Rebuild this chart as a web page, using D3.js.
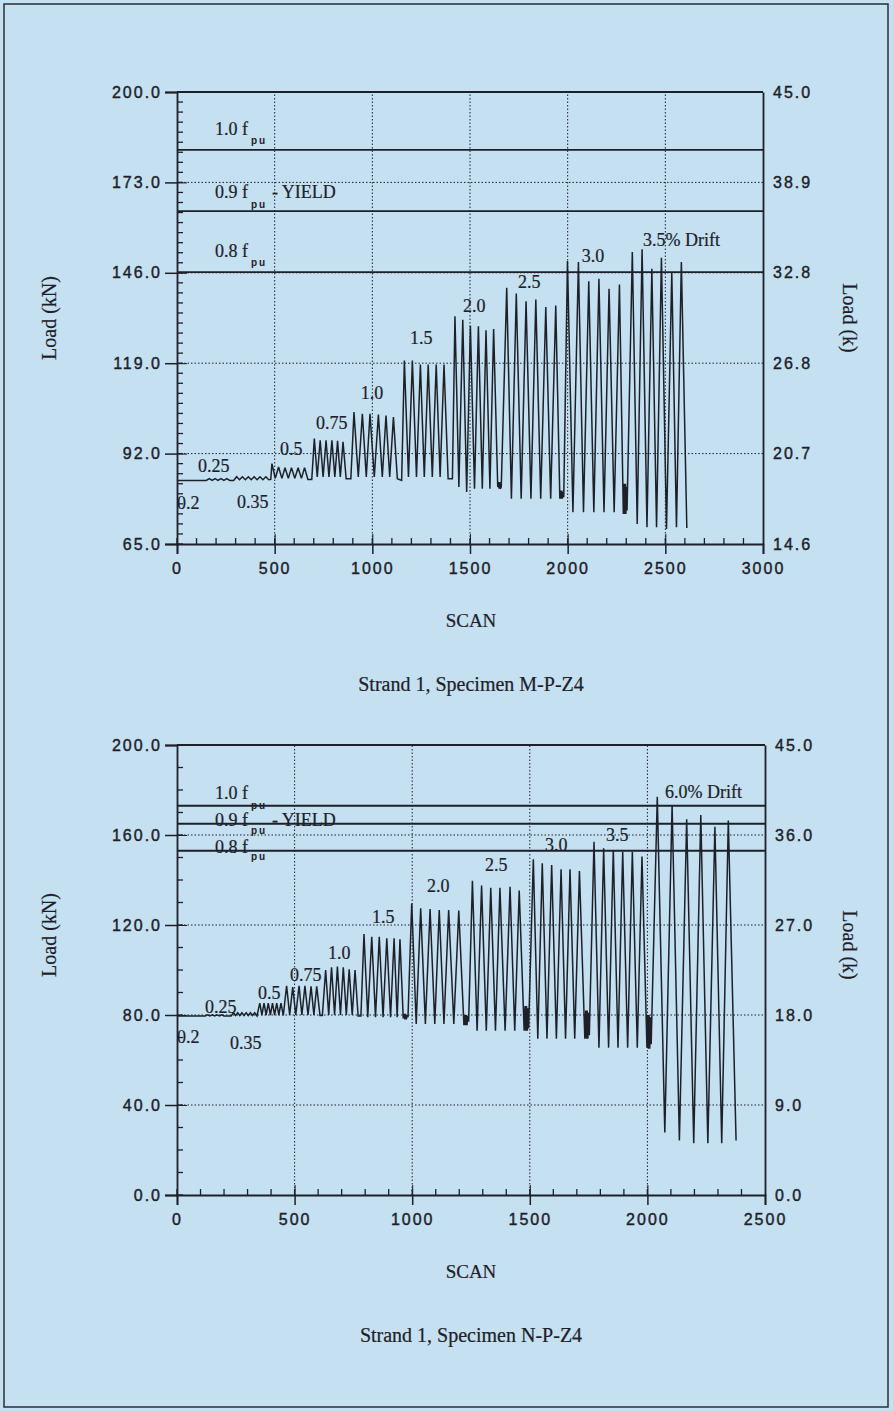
<!DOCTYPE html>
<html>
<head>
<meta charset="utf-8">
<script src="https://cdn.jsdelivr.net/npm/d3@7"></script>
<style>
  body { margin: 0; background: #c4e0f1; }
  svg { display: block; }
  .num { font-family: "Liberation Sans", Arial, sans-serif; font-size: 16px; letter-spacing: 2px; fill: #1d2029; stroke: #1d2029; stroke-width: 0.4px; }
  .serif { font-family: "Liberation Serif", "Times New Roman", serif; fill: #1d2029; stroke: #1d2029; stroke-width: 0.2px; }
  .sub { font-family: "Liberation Sans", Arial, sans-serif; font-size: 10px; font-weight: bold; letter-spacing: 2px; fill: #1d2029; }
</style>
</head>
<body>
<svg id="fig" width="893" height="1411"></svg>
<script>
// ---- Specimen M-P-Z4 (top) ----
const mpzXTicks = [0, 500, 1000, 1500, 2000, 2500, 3000];
const mpzYTicks = [65, 92, 119, 146, 173, 200];
const mpzRightLabels = ["14.6", "20.7", "26.8", "32.8", "38.9", "45.0"];
const mpzFpu = [182.7, 164.4, 146.2];
// turning points [scan, load kN]
const mpzPoints = [
  [0, 84.0], [150, 84.0],
  [165, 84.5], [180, 84.0], [195, 84.5], [210, 84.0], [225, 84.5], [240, 84.0], [255, 84.5], [270, 84.0], [290, 84.0],
  [305, 85.1], [320, 84.2], [335, 85.1], [350, 84.2], [365, 85.1], [380, 84.2], [395, 85.1], [410, 84.2], [425, 85.1], [440, 84.2], [455, 85.1], [470, 84.2],
  [480, 84.3], [486, 89.0], [503, 84.6], [520, 88.0], [537, 84.6], [553, 87.8], [570, 84.6], [586, 87.8], [603, 84.6], [620, 87.8], [637, 84.6], [653, 87.8], [670, 84.3], [690, 84.3],
  [703, 96.5], [718, 85.0], [733, 96.0], [748, 85.0], [763, 96.0], [778, 85.0], [793, 96.0], [808, 85.0], [822, 95.8], [836, 85.0], [850, 95.5], [866, 84.5], [890, 84.5],
  [906, 104.4], [928, 85.0], [949, 103.9], [969, 85.0], [988, 103.9], [1010, 85.0], [1031, 103.7], [1051, 85.0], [1070, 103.4], [1089, 85.0], [1108, 102.9], [1128, 84.5], [1150, 84.0],
  [1164, 119.8], [1185, 85.0], [1205, 119.8], [1226, 85.0], [1246, 118.6], [1266, 85.0], [1286, 118.6], [1307, 85.0], [1327, 118.6], [1347, 85.0], [1367, 118.6], [1388, 84.5], [1410, 84.5],
  [1423, 133.0], [1443, 82.0], [1463, 132.0], [1483, 80.5], [1502, 130.2], [1523, 81.5], [1543, 130.0], [1563, 81.5], [1582, 128.8], [1602, 81.5], [1621, 129.2], [1642, 82.0],
  [1646, 83.5], [1649, 81.5], [1652, 83.5], [1655, 81.5], [1660, 82.0],
  [1688, 141.5], [1712, 78.5], [1737, 139.8], [1762, 78.5], [1787, 137.5], [1812, 78.5], [1837, 138.0], [1862, 78.5], [1888, 135.8], [1913, 78.5], [1939, 136.2], [1960, 78.5],
  [1964, 81.0], [1967, 78.5], [1970, 81.0], [1973, 78.5], [1976, 80.5], [1980, 79.0],
  [1999, 149.5], [2027, 74.5], [2055, 149.2], [2081, 74.5], [2108, 143.5], [2134, 74.5], [2160, 144.2], [2186, 74.5], [2212, 141.2], [2238, 74.5], [2265, 142.5], [2285, 74.0],
  [2288, 83.0], [2290, 74.0], [2292, 83.0], [2294, 74.0], [2296, 83.0], [2298, 74.0], [2301, 82.0], [2304, 75.0],
  [2331, 152.2], [2356, 71.0], [2381, 153.0], [2406, 70.0], [2431, 147.2], [2455, 70.0], [2480, 150.5], [2506, 69.5], [2533, 146.2], [2557, 70.0], [2582, 149.2], [2610, 69.8]
];
// drift labels [text, scan, load]
const mpzDrift = [
  ["0.2", 0, 77.2], ["0.25", 108, 88.5], ["0.35", 307, 77.5], ["0.5", 527, 93.6], ["0.75", 712, 101.2],
  ["1.0", 941, 110.2], ["1.5", 1193, 126.5], ["2.0", 1464, 136.2], ["2.5", 1746, 143.3],
  ["3.0", 2072, 151.0], ["3.5% Drift", 2386, 156.0]
];
const mpzFpuLabels = [["1.0 f", 189.0, 185.5], ["0.9 f", 170.1, 166.5], ["0.8 f", 152.5, 149.2]];

// ---- Specimen N-P-Z4 (bottom) ----
const npzXTicks = [0, 500, 1000, 1500, 2000, 2500];
const npzYTicks = [0, 40, 80, 120, 160, 200];
const npzRightLabels = ["0.0", "9.0", "18.0", "27.0", "36.0", "45.0"];
const npzFpu = [173.0, 165.0, 153.0];
const npzPoints = [
  [0, 79.6], [120, 79.6],
  [130, 80.1], [140, 79.6], [150, 80.1], [160, 79.6], [170, 80.1], [180, 79.6], [190, 80.1], [200, 79.6], [230, 79.6],
  [240, 81.0], [249, 79.8], [258, 81.0], [267, 79.8], [276, 81.0], [285, 79.8], [294, 81.0], [303, 79.8], [312, 81.0], [321, 79.8], [330, 81.0], [340, 79.6],
  [352, 85.3], [361, 80.0], [370, 85.3], [379, 80.0], [388, 85.3], [397, 80.0], [406, 85.3], [415, 80.0], [424, 85.3], [433, 80.0], [442, 85.3], [452, 79.8],
  [466, 93.0], [479, 80.0], [492, 92.4], [505, 80.0], [519, 93.0], [531, 80.0], [544, 93.0], [557, 80.0], [570, 92.7], [582, 80.0], [594, 92.7], [608, 79.8], [618, 79.8],
  [632, 100.0], [645, 80.0], [657, 101.2], [670, 80.0], [682, 101.5], [695, 80.0], [707, 101.2], [720, 80.0], [732, 100.3], [745, 80.0], [757, 100.0], [770, 79.6], [782, 79.6],
  [795, 116.0], [811, 79.0], [828, 114.8], [844, 79.0], [860, 114.8], [876, 79.0], [892, 114.1], [908, 79.0], [923, 114.1], [936, 79.0], [948, 113.6], [962, 78.5],
  [966, 80.5], [969, 78.0], [972, 80.5], [975, 78.0], [978, 80.0], [982, 79.0],
  [998, 129.6], [1017, 76.0], [1036, 127.4], [1056, 76.0], [1076, 127.1], [1096, 76.0], [1115, 126.7], [1135, 76.0], [1155, 126.7], [1177, 76.0], [1198, 126.4], [1220, 75.5],
  [1224, 80.0], [1227, 75.5], [1230, 80.0], [1233, 75.5], [1236, 79.5], [1240, 77.0],
  [1256, 139.7], [1276, 73.0], [1295, 137.5], [1315, 73.0], [1334, 136.5], [1354, 73.0], [1373, 136.5], [1395, 73.0], [1416, 137.0], [1436, 73.0], [1455, 135.3], [1476, 73.0],
  [1480, 84.0], [1483, 73.0], [1486, 84.0], [1489, 73.0], [1492, 83.0], [1495, 74.0],
  [1515, 149.2], [1534, 69.5], [1553, 147.4], [1573, 69.5], [1593, 146.7], [1613, 69.5], [1633, 144.8], [1652, 69.5], [1671, 144.8], [1691, 69.5], [1711, 144.0], [1734, 69.5],
  [1738, 82.0], [1741, 69.5], [1744, 82.0], [1747, 69.5], [1750, 81.0], [1753, 71.0],
  [1773, 157.0], [1794, 65.5], [1814, 154.1], [1835, 65.5], [1855, 153.3], [1875, 65.5], [1895, 152.6], [1916, 65.5], [1936, 152.6], [1957, 65.5], [1977, 150.4], [1998, 65.5],
  [2001, 80.0], [2004, 65.0], [2007, 80.0], [2010, 65.0], [2013, 79.0], [2016, 67.0],
  [2042, 177.0], [2074, 27.8], [2105, 173.3], [2136, 24.2], [2167, 167.0], [2197, 23.0], [2227, 168.9], [2257, 23.0], [2287, 163.7], [2316, 23.0], [2344, 166.4], [2377, 24.2]
];
const npzDrift = [
  ["0.2", 0, 70.4], ["0.25", 119, 83.7], ["0.35", 225, 67.6], ["0.5", 344, 89.8], ["0.75", 480, 97.8],
  ["1.0", 642, 107.6], ["1.5", 829, 123.6], ["2.0", 1063, 137.3], ["2.5", 1310, 146.7],
  ["3.0", 1565, 155.6], ["3.5", 1824, 160.0], ["6.0% Drift", 2075, 179.2]
];
const npzFpuLabels = [["1.0 f", 178.8, 173.3], ["0.9 f", 166.7, 162.2], ["0.8 f", 154.8, 150.4]];

const ink = "#1d2029";
const svg = d3.select("#fig");

// page frame
svg.append("rect")
  .attr("x", 4).attr("y", 4).attr("width", 884).attr("height", 1403)
  .attr("fill", "#c4e0f1").attr("stroke", "#2a2d36").attr("stroke-width", 1.5);

function drawChart(c) {
  const g = svg.append("g");
  const x = d3.scaleLinear().domain([0, c.xTicks[c.xTicks.length - 1]]).range([177, c.right]);
  const y = d3.scaleLinear().domain([c.yTicks[0], c.yTicks[c.yTicks.length - 1]]).range([c.bottom, c.top]);
  const [x0, x1] = x.range();
  const [y0, y1] = y.range();

  // dotted grid
  g.selectAll(".hgrid").data(c.yTicks.slice(1, -1)).enter().append("line")
    .attr("x1", x0).attr("x2", x1).attr("y1", d => y(d)).attr("y2", d => y(d))
    .attr("stroke", ink).attr("stroke-width", 1).attr("stroke-dasharray", "1.5,2");
  g.selectAll(".vgrid").data(c.xTicks.slice(1, -1)).enter().append("line")
    .attr("x1", d => x(d)).attr("x2", d => x(d)).attr("y1", y0).attr("y2", y1)
    .attr("stroke", ink).attr("stroke-width", 1).attr("stroke-dasharray", "1.5,2");

  // minor ticks
  const yMinor = d3.range(c.yTicks[0], c.yTicks[c.yTicks.length - 1], c.yMinor);
  g.selectAll(".ymin").data(yMinor).enter().append("line")
    .attr("x1", x0).attr("x2", x0 + 6).attr("y1", d => y(d)).attr("y2", d => y(d))
    .attr("stroke", ink).attr("stroke-width", 1.3);
  const xMinor = d3.range(0, x.domain()[1], 100);
  g.selectAll(".xmin").data(xMinor).enter().append("line")
    .attr("x1", d => x(d)).attr("x2", d => x(d)).attr("y1", y0).attr("y2", y0 - 6)
    .attr("stroke", ink).attr("stroke-width", 1.3);

  // axes
  const left = g.append("g").attr("transform", `translate(${x0},0)`)
    .call(d3.axisLeft(y).tickValues(c.yTicks).tickFormat(d3.format(".1f")).tickSize(12).tickPadding(3));
  g.append("g").attr("transform", `translate(${x0},0)`)
    .call(d3.axisRight(y).tickValues(c.yTicks).tickSize(10).tickFormat(""))
    .select(".domain").remove();
  const bottomAx = g.append("g").attr("transform", `translate(0,${y0})`)
    .call(d3.axisBottom(x).tickValues(c.xTicks).tickFormat(d3.format("d")).tickSize(10).tickPadding(9));
  g.append("g").attr("transform", `translate(0,${y0})`)
    .call(d3.axisTop(x).tickValues(c.xTicks).tickSize(10).tickFormat(""))
    .select(".domain").remove();
  const rightAx = g.append("g").attr("transform", `translate(${x1},0)`)
    .call(d3.axisRight(y).tickValues(c.yTicks).tickFormat((d, i) => c.rightLabels[i]).tickSize(0).tickPadding(10));
  g.append("line").attr("x1", x0).attr("x2", x1).attr("y1", y1).attr("y2", y1)
    .attr("stroke", ink).attr("stroke-width", 1.8);

  [left, bottomAx, rightAx].forEach(a => {
    a.selectAll(".domain").attr("stroke", ink).attr("stroke-width", 1.8);
    a.selectAll(".tick line").attr("stroke", ink).attr("stroke-width", 1.5);
    a.selectAll("text").attr("class", "num").attr("font-size", null).attr("font-family", null).attr("fill", null);
  });
  g.selectAll(".tick line").attr("stroke", ink);

  // fpu reference lines
  g.selectAll(".fpu").data(c.fpu).enter().append("line")
    .attr("x1", x0).attr("x2", x1).attr("y1", d => y(d)).attr("y2", d => y(d))
    .attr("stroke", ink).attr("stroke-width", 1.8);

  // load trace
  const line = d3.line().x(d => x(d[0])).y(d => y(d[1]));
  g.append("path").datum(c.points)
    .attr("d", line).attr("fill", "none")
    .attr("stroke", ink).attr("stroke-width", 1.5).attr("stroke-linejoin", "miter").attr("stroke-miterlimit", 3);

  // drift labels
  g.selectAll(".drift").data(c.drift).enter().append("text")
    .attr("class", "serif").attr("font-size", 18)
    .attr("x", d => x(d[1])).attr("y", d => y(d[2])).attr("dy", "0.35em")
    .text(d => d[0]);

  // fpu labels
  c.fpuLabels.forEach((d, i) => {
    g.append("text").attr("class", "serif").attr("font-size", 18)
      .attr("x", 215).attr("y", y(d[1])).attr("dy", "0.35em").text(d[0]);
    g.append("text").attr("class", "sub")
      .attr("x", 251).attr("y", y(d[2])).attr("dy", "0.35em").text("pu");
    if (i === 1) {
      g.append("text").attr("class", "serif").attr("font-size", 18)
        .attr("x", 272).attr("y", y(d[1])).attr("dy", "0.35em").text("- YIELD");
    }
  });

  // titles
  const midY = (y0 + y1) / 2 + c.titleShift;
  g.append("text").attr("class", "serif").attr("font-size", 20).attr("text-anchor", "middle")
    .attr("transform", `translate(56,${midY}) rotate(-90)`).text("Load (kN)");
  g.append("text").attr("class", "serif").attr("font-size", 20).attr("text-anchor", "middle")
    .attr("transform", `translate(843,${midY + c.rightShift}) rotate(90)`).text("Load (k)");
  g.append("text").attr("class", "serif").attr("font-size", 19).attr("text-anchor", "middle")
    .attr("x", 471).attr("y", y0 + 83).text("SCAN");
  g.append("text").attr("class", "serif").attr("font-size", 20).attr("text-anchor", "middle")
    .attr("x", 471).attr("y", y0 + 147).text(c.caption);
}

drawChart({
  xTicks: mpzXTicks, yTicks: mpzYTicks, rightLabels: mpzRightLabels, fpu: mpzFpu,
  points: mpzPoints, drift: mpzDrift, fpuLabels: mpzFpuLabels,
  right: 763, top: 92, bottom: 544, yMinor: 3, titleShift: 0, rightShift: 0,
  caption: "Strand 1, Specimen M-P-Z4"
});
drawChart({
  xTicks: npzXTicks, yTicks: npzYTicks, rightLabels: npzRightLabels, fpu: npzFpu,
  points: npzPoints, drift: npzDrift, fpuLabels: npzFpuLabels,
  right: 765, top: 745, bottom: 1195, yMinor: 10, titleShift: -35, rightShift: 10,
  caption: "Strand 1, Specimen N-P-Z4"
});
</script>
</body>
</html>
